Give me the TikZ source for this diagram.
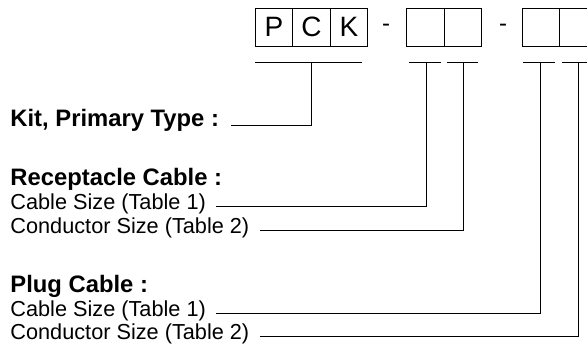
\documentclass[tikz,border=0pt]{standalone}
\usepackage{fontspec}
\setmainfont{Liberation Sans}
\tikzset{
  cell/.style={draw, minimum width=37.5pt, minimum height=38pt, inner sep=0pt, font=\fontsize{28}{30}\selectfont},
  head/.style={anchor=base west, inner sep=0pt, font=\fontsize{23.8}{26}\selectfont\bfseries},
  item/.style={anchor=base west, inner sep=0pt, font=\fontsize{21.7}{24}\selectfont}
}
\begin{document}
\begin{tikzpicture}[x=1pt,y=-1pt,line width=0.9pt]
\useasboundingbox (0,0) rectangle (587,345);

\node[cell] (p) at (274,27) {P};
\node[cell] (c) at (311.5,27) {C};
\node[cell] (k) at (349,27) {K};
\node[font=\fontsize{24}{26}\selectfont, inner sep=0pt] (d1) at (386,28) {-};
\node[cell] (r1) at (425.5,27) {};
\node[cell] (r2) at (463,27) {};
\node[font=\fontsize{24}{26}\selectfont, inner sep=0pt] (d2) at (503,28) {-};
\node[cell] (g1) at (541,27) {};
\node[cell] (g2) at (578.5,27) {};

\coordinate (t1) at (311,62);
\coordinate (t2) at (426,62);
\coordinate (t3) at (463,62);
\coordinate (t4) at (540,62);
\coordinate (t5) at (578,62);
\draw (255,62) -- (362,62);
\draw (409,62) -- (441,62);
\draw (447,62) -- (478,62);
\draw (523,62) -- (555,62);
\draw (562,62) -- (594,62);

\node[head] (kit) at (10,127) {Kit, Primary Type :};
\node[head] (rec) at (10,185) {Receptacle Cable :};
\node[item] (rcs) at (10,209) {Cable Size (Table 1)};
\node[item] (rcd) at (10,233) {Conductor Size (Table 2)};
\node[head] (plg) at (10,292) {Plug Cable :};
\node[item] (pcs) at (10,316) {Cable Size (Table 1)};
\node[item] (pcd) at (10,339) {Conductor Size (Table 2)};

\draw ([xshift=12pt,yshift=2pt]kit.base east) -| (t1);
\draw ([xshift=10pt,yshift=3pt]rcs.base east) -| (t2);
\draw ([xshift=10pt,yshift=3pt]rcd.base east) -| (t3);
\draw ([xshift=10pt,yshift=3pt]pcs.base east) -| (t4);
\draw ([xshift=10pt,yshift=3pt]pcd.base east) -| (t5);
\end{tikzpicture}
\end{document}
